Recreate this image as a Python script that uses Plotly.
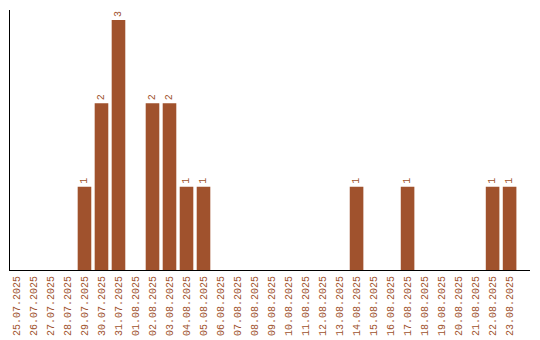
import plotly.graph_objects as go

dates = ["25.07.2025", "26.07.2025", "27.07.2025", "28.07.2025", "29.07.2025",
         "30.07.2025", "31.07.2025", "01.08.2025", "02.08.2025", "03.08.2025",
         "04.08.2025", "05.08.2025", "06.08.2025", "07.08.2025", "08.08.2025",
         "09.08.2025", "10.08.2025", "11.08.2025", "12.08.2025", "13.08.2025",
         "14.08.2025", "15.08.2025", "16.08.2025", "17.08.2025", "18.08.2025",
         "19.08.2025", "20.08.2025", "21.08.2025", "22.08.2025", "23.08.2025"]
counts = [0, 0, 0, 0, 1, 2, 3, 0, 2, 2, 1, 1, 0, 0, 0, 0, 0, 0, 0, 0,
          1, 0, 0, 1, 0, 0, 0, 0, 1, 1]

color = "#A0522D"
font = dict(family="Liberation Mono", size=10, color=color)

x_idx = list(range(len(dates)))
labels = [str(c) if c > 0 else "" for c in counts]

fig = go.Figure(go.Bar(
    x=x_idx, y=counts, marker=dict(color=color, line=dict(width=0)),
    width=0.8,
    text=labels, textposition="outside", textangle=-90,
    textfont=font, cliponaxis=False, hoverinfo="skip",
))
fig.update_layout(
    width=540, height=340,
    margin=dict(l=10, r=10, t=10, b=70, autoexpand=False),
    plot_bgcolor="white", paper_bgcolor="white",
    showlegend=False,
)
fig.update_xaxes(
    range=[-0.38, 30.2], tickmode="array", tickvals=x_idx, ticktext=dates,
    tickangle=-90, tickfont=font, showgrid=False, zeroline=False,
    showline=True, linecolor="black", linewidth=1, ticks="",
    automargin=False, ticklabelstandoff=1,
)
fig.update_yaxes(
    range=[0, 3.12], showticklabels=False, showgrid=False, zeroline=False,
    showline=True, linecolor="black", linewidth=1, ticks="",
    automargin=False,
)
fig.write_html("out.html")
